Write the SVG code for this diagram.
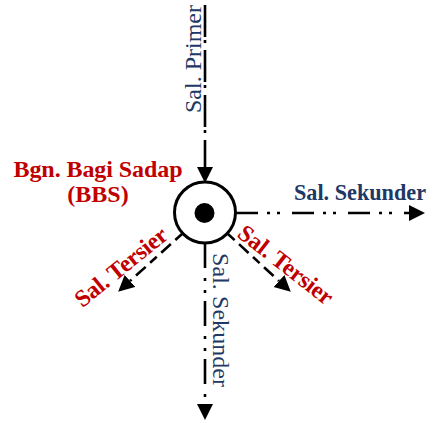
<svg xmlns="http://www.w3.org/2000/svg" width="436" height="423" viewBox="0 0 436 423">
  <style>
    .ln { stroke: #000; stroke-width: 2.6; fill: none; }
    .prim { stroke-dasharray: 32 3 3 7; }
    .sek { stroke-dasharray: 22 9 3 7 3 12; }
    .sekv { stroke-dasharray: 25 10 3 9 3 8; }
    .ter { stroke-dasharray: 9 6 13 6; }
    .navy { fill: #203864; font-family: "Liberation Serif", "Times New Roman", serif; font-size: 24px; }
    .red { fill: #C00000; font-family: "Liberation Serif", "Times New Roman", serif; font-size: 24px; font-weight: bold; }
  </style>
  <defs>
    <marker id="arrow" markerUnits="userSpaceOnUse" markerWidth="17" markerHeight="17" refX="0" refY="8" orient="auto">
      <path d="M0,0 L16,8 L0,16 Z" fill="#000"/>
    </marker>
  </defs>

  <!-- connectors -->
  <g id="connectors">
    <line class="ln prim" x1="205" y1="5" x2="205" y2="167" marker-end="url(#arrow)"/>
    <line class="ln sek" x1="236" y1="213" x2="409" y2="213" marker-end="url(#arrow)"/>
    <line class="ln sekv" x1="205" y1="243" x2="205" y2="404" marker-end="url(#arrow)"/>
    <line class="ln ter" x1="182" y1="234" x2="130" y2="281" marker-end="url(#arrow)"/>
    <line class="ln ter" x1="228" y1="234" x2="279" y2="281" marker-end="url(#arrow)"/>
  </g>

  <!-- junction box (BBS) -->
  <g id="bbs-node">
    <circle cx="205" cy="212.5" r="30.5" fill="#fff" stroke="#000" stroke-width="3"/>
    <circle cx="204.5" cy="213" r="10" fill="#000"/>
  </g>

  <g id="bbs-label">
    <text class="red" x="98" y="177" text-anchor="middle" textLength="169">Bgn. Bagi Sadap</text>
    <text class="red" x="98" y="202" text-anchor="middle">(BBS)</text>
  </g>

  <g id="primer-label">
    <text class="navy" transform="translate(201,59) rotate(-90)" text-anchor="middle" textLength="108">Sal. Primer</text>
  </g>

  <g id="sekunder-right-label">
    <text class="navy" x="360" y="200" text-anchor="middle" font-size="20" font-weight="bold" textLength="132" lengthAdjust="spacingAndGlyphs">Sal. Sekunder</text>
  </g>

  <g id="sekunder-down-label">
    <text class="navy" transform="translate(213,320) rotate(90)" text-anchor="middle" textLength="134">Sal. Sekunder</text>
  </g>

  <g id="tersier-left-label">
    <text class="red" font-size="22" transform="translate(126,273) rotate(-39)" text-anchor="middle" textLength="112">Sal. Tersier</text>
  </g>

  <g id="tersier-right-label">
    <text class="red" font-size="22" transform="translate(281,271) rotate(38)" text-anchor="middle" textLength="114">Sal. Tersier</text>
  </g>
</svg>
